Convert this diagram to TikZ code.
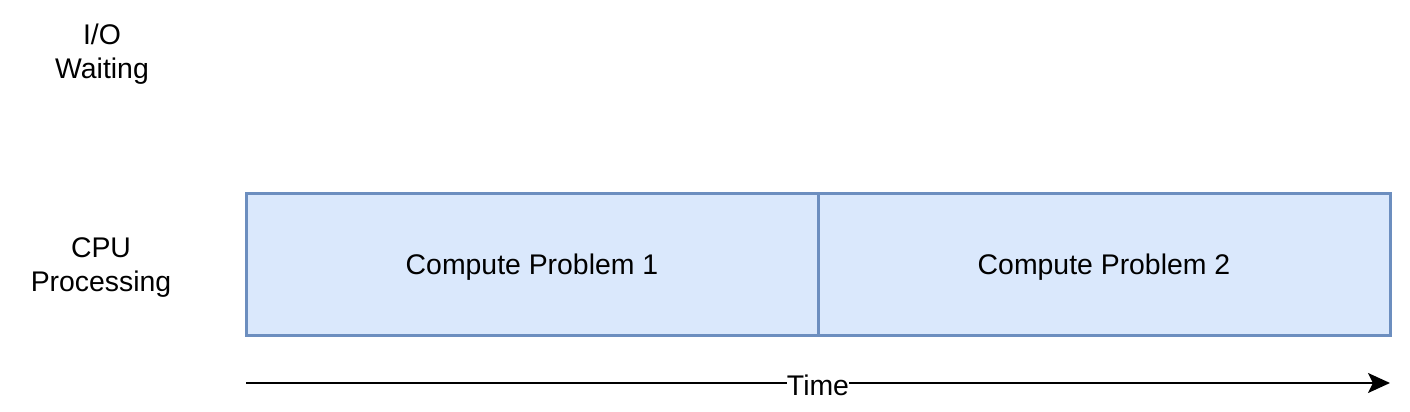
\documentclass[tikz,border=0pt]{standalone}
\usepackage{fontspec}
\setmainfont{Liberation Sans}
\usetikzlibrary{arrows.meta, positioning}
\definecolor{boxfill}{HTML}{DAE8FC}
\definecolor{boxline}{HTML}{6C8EBF}
\tikzset{
  taskbox/.style={rectangle, draw=boxline, fill=boxfill, line width=1.5pt,
        minimum width=286pt, minimum height=71pt, inner sep=0pt, outer sep=0pt,
        text depth=0pt},
  rowlabel/.style={align=center, inner sep=0pt}
}

\begin{document}
\begin{tikzpicture}[x=0.5pt, y=-0.5pt, >=Stealth,
      font=\fontsize{14.2}{17}\selectfont]
    \useasboundingbox (0,0) rectangle (1410,412);
    % row labels
    \node[rowlabel] (io) at (102,54) {I/O\\Waiting};
    \node[rowlabel] (cpu) at (101,268) {CPU\\Processing};
    % tasks on the cpu row
    \node[taskbox] (p1) at (532,264) {Compute Problem 1};
    \node[taskbox, right=0pt of p1] (p2) {Compute Problem 2};
    % time axis
    \coordinate (t0) at (246,383);
    \coordinate (t1) at (1390,383);
    \draw[->, line width=1pt, -{Stealth[length=11pt, width=10pt, inset=2.5pt]}]
      (t0) -- node[fill=white, inner sep=0pt, yshift=-1pt] (time) {Time} (t1);
  \end{tikzpicture}
\end{document}
